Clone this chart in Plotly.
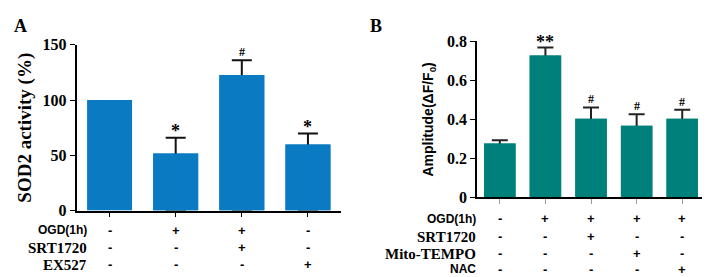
import plotly.graph_objects as go

W, H = 710, 277

# ---------------- Panel A data ----------------
groups_a = ["Control", "OGD", "OGD+SRT1720", "EX527"]
sod2_mean = [100, 51.7, 122.6, 59.9]
sod2_err = [None, 14.1, 13.4, 9.8]   # control shown without error bar
sig_a = ["", "*", "#", "*"]
rows_a = ["OGD(1h)", "SRT1720", "EX527"]
signs_a = [
    ["-", "+", "+", "-"],
    ["-", "-", "+", "-"],
    ["-", "-", "-", "+"],
]

# ---------------- Panel B data ----------------
groups_b = ["Control", "OGD", "OGD+SRT1720", "OGD+Mito-TEMPO", "OGD+NAC"]
amp_mean = [0.277, 0.728, 0.403, 0.368, 0.403]
amp_err = [0.016, 0.04, 0.058, 0.058, 0.046]
sig_b = ["", "**", "#", "#", "#"]
rows_b = ["OGD(1h)", "SRT1720", "Mito-TEMPO", "NAC"]
signs_b = [
    ["-", "+", "+", "+", "+"],
    ["-", "-", "+", "-", "-"],
    ["-", "-", "-", "+", "-"],
    ["-", "-", "-", "-", "+"],
]
ticks_a = [0, 50, 100, 150]
ticks_b = [0, 0.2, 0.4, 0.6, 0.8]
ticklabels_b = ["0", "0.2", "0.4", "0.6", "0.8"]

SERIF = "Liberation Serif, Times New Roman, serif"
SANS = "Liberation Sans, Arial, sans-serif"
COL_A = "#0a7bc2"
COL_B = "#00807a"


def px_x(p):
    return p / W


def px_y(p):
    return 1 - p / H


def b(t):
    return "<b>" + str(t) + "</b>"


def with_err(groups, means, errs):
    keep = [i for i, e in enumerate(errs) if e is not None]
    return ([groups[i] for i in keep], [means[i] for i in keep],
            [errs[i] for i in keep])


fig = go.Figure()

# Panel A: error bars (drawn from 0 up to mean+err), then bars on top
ga, ma, ea = with_err(groups_a, sod2_mean, sod2_err)
fig.add_trace(go.Bar(
    x=ga, y=ma, width=0.68,
    marker=dict(color=COL_A, line=dict(width=0)),
    error_y=dict(type="data", symmetric=False, array=ea,
                 arrayminus=ma, color="#111111",
                 thickness=2, width=10),
    xaxis="x", yaxis="y", showlegend=False, hoverinfo="skip",
))
fig.add_trace(go.Bar(
    x=groups_a, y=sod2_mean, width=0.68,
    marker=dict(color=COL_A, line=dict(width=0)),
    xaxis="x", yaxis="y", showlegend=False,
))

# Panel B
gb, mb, eb = with_err(groups_b, amp_mean, amp_err)
fig.add_trace(go.Bar(
    x=gb, y=mb, width=0.69,
    marker=dict(color=COL_B, line=dict(width=0)),
    error_y=dict(type="data", symmetric=False, array=eb,
                 arrayminus=mb, color="#222222",
                 thickness=2, width=8),
    xaxis="x2", yaxis="y2", showlegend=False, hoverinfo="skip",
))
fig.add_trace(go.Bar(
    x=groups_b, y=amp_mean, width=0.69,
    marker=dict(color=COL_B, line=dict(width=0)),
    xaxis="x2", yaxis="y2", showlegend=False,
))

tickfont = dict(family=SERIF, size=16, color="black")

fig.update_layout(
    width=W, height=H,
    margin=dict(l=0, r=0, t=0, b=0),
    paper_bgcolor="white", plot_bgcolor="white",
    barmode="overlay",
    xaxis=dict(domain=[px_x(68.5), px_x(333)], type="category",
               categoryorder="array", categoryarray=groups_a,
               range=[-0.5, 3.5], showticklabels=False,
               ticks="outside", ticklen=5, tickcolor="black",
               showline=True, linecolor="black", linewidth=1.5,
               showgrid=False, zeroline=False, anchor="y"),
    yaxis=dict(domain=[px_y(207.3), px_y(30.7)], range=[0, 150],
               tickvals=ticks_a, ticktext=[b(t) for t in ticks_a],
               ticks="outside", ticklen=5,
               tickcolor="black", tickfont=tickfont,
               showline=True, linecolor="black", linewidth=1.5,
               showgrid=False, zeroline=False, anchor="x",
               title=dict(text=b("SOD2 activity (%)"),
                          font=dict(family=SERIF, size=19, color="black"),
                          standoff=6)),
    xaxis2=dict(domain=[px_x(469), px_x(708)], type="category",
                categoryorder="array", categoryarray=groups_b,
                range=[-0.5, 4.74], showticklabels=False,
                ticks="outside", ticklen=5, tickcolor="#999999",
                showline=True, linecolor="black", linewidth=1.5,
                showgrid=False, zeroline=False, anchor="y2"),
    yaxis2=dict(domain=[px_y(193.3), px_y(27)], range=[0, 0.8],
                tickvals=ticks_b, ticktext=[b(t) for t in ticklabels_b],
                ticks="outside", ticklen=5, tickcolor="black",
                tickfont=tickfont,
                showline=True, linecolor="black", linewidth=1.5,
                showgrid=False, zeroline=False, anchor="x2",
                title=dict(text=b("Amplitude(ΔF/F<sub>0</sub>)"),
                           font=dict(family=SANS, size=14, color="black"),
                           standoff=10)),
)

ann = []
# Panel letters
for letter, xp in (("A", 4), ("B", 360)):
    ann.append(dict(text=b(letter), x=px_x(xp), y=px_y(11), xref="paper",
                    yref="paper", xanchor="left", yanchor="middle",
                    showarrow=False,
                    font=dict(family=SERIF, size=18, color="black")))

# Significance marks
for g, m, e, s in zip(groups_a, sod2_mean, sod2_err, sig_a):
    if s:
        ann.append(dict(text=b(s), x=g, y=m + (e or 0), xref="x", yref="y",
                        xanchor="center", yanchor="bottom", showarrow=False,
                        yshift=-5 if s == "*" else -1,
                        font=dict(family=SERIF, size=18 if s == "*" else 12,
                                  color="black")))
for g, m, e, s in zip(groups_b, amp_mean, amp_err, sig_b):
    if s:
        ann.append(dict(text=b(s), x=g, y=m + e, xref="x2", yref="y2",
                        xanchor="center", yanchor="bottom", showarrow=False,
                        yshift=-6 if "*" in s else -1,
                        font=dict(family=SERIF, size=18 if "*" in s else 12,
                                  color="black")))

# Treatment rows, panel A
row_y_a = [228, 246.7, 265]
row_font_a = [SANS, SERIF, SERIF]
row_size_a = [12, 15, 15]
for lab, yp, fam, sz, signs in zip(rows_a, row_y_a, row_font_a, row_size_a, signs_a):
    ann.append(dict(text=b(lab), x=px_x(81), y=px_y(yp), xref="paper",
                    yref="paper", xanchor="right", yanchor="middle",
                    showarrow=False,
                    font=dict(family=fam, size=sz, color="black")))
    for g, s in zip(groups_a, signs):
        ann.append(dict(text=b(s), x=g, y=px_y(yp), xref="x", yref="paper",
                        xanchor="center", yanchor="middle", showarrow=False,
                        font=dict(family=SANS, size=13, color="black")))

# Treatment rows, panel B
row_y_b = [216, 235, 253.5, 270]
row_font_b = [SANS, SERIF, SERIF, SANS]
row_size_b = [12, 15, 15, 12]
for lab, yp, fam, sz, signs in zip(rows_b, row_y_b, row_font_b, row_size_b, signs_b):
    ann.append(dict(text=b(lab), x=px_x(470), y=px_y(yp), xref="paper",
                    yref="paper", xanchor="right", yanchor="middle",
                    showarrow=False,
                    font=dict(family=fam, size=sz, color="black")))
    for g, s in zip(groups_b, signs):
        ann.append(dict(text=b(s), x=g, y=px_y(yp), xref="x2", yref="paper",
                        xanchor="center", yanchor="middle", showarrow=False,
                        font=dict(family=SANS, size=13, color="black")))

fig.update_layout(annotations=ann)

fig.write_html("out.html")
